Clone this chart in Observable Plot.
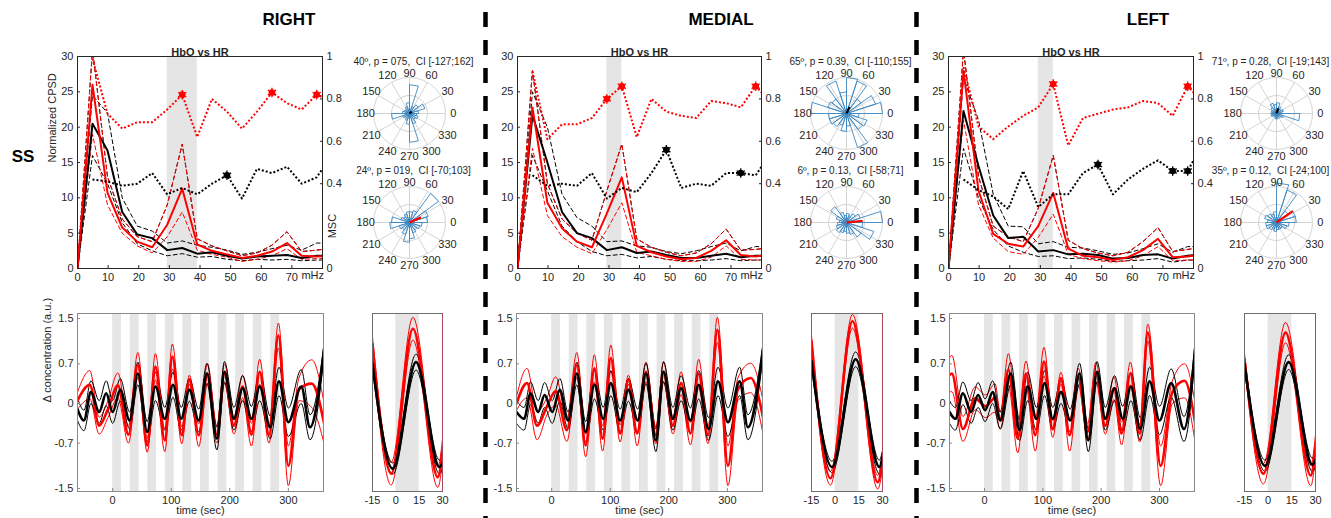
<!DOCTYPE html>
<html><head><meta charset="utf-8">
<script src="https://cdn.jsdelivr.net/npm/d3@7"></script>
<script src="https://cdn.jsdelivr.net/npm/@observablehq/plot@0.6"></script>
<style>
body{margin:0;background:#fff;}
#root{position:relative;width:1331px;height:518px;overflow:hidden;font-family:Arial,"Liberation Sans",Helvetica,sans-serif;color:#262626;background:#fff;}
.hdr{position:absolute;font-weight:bold;font-size:17px;color:#000;transform:translate(-50%,-50%);white-space:nowrap;}
</style></head><body><div id="root"></div>
<script>
// ---------------- DATA ----------------
const regions = ["RIGHT", "MEDIAL", "LEFT"];
const rowLabel = "SS";
const panelTitle = "HbO vs HR";
const freqUnit = "mHz";
const freq = [0, 4.9, 9.8, 14.6, 19.5, 24.4, 29.3, 34.2, 39.1, 43.9, 48.8, 53.7, 58.6, 63.5, 68.4, 73.2, 78.1, 80];
const freqTicks = [0, 10, 20, 30, 40, 50, 60, 70];
const cpsdTicks = [0, 5, 10, 15, 20, 25, 30];
const mscTicks = [0, 0.4, 0.6, 0.8, 1];
const timeTicks = [0, 100, 200, 300];
const concTicks = [-1.5, -0.7, 0, 0.7, 1.5];
const cycleTicks = [-15, 0, 15, 30];
const blockStarts = [0, 30, 60, 90, 120, 150, 180, 210, 240, 270];
const blockLen = 15;
const angleTicks = [0, 30, 60, 90, 120, 150, 180, 210, 240, 270, 300, 330];
const roseBinStarts = [0, 18, 36, 54, 72, 90, 108, 126, 144, 162, 180, 198, 216, 234, 252, 270, 288, 306, 324, 342];
const roseBinWidth = 18;
const gridRings = [0.5, 1];

// RIGHT - CPSD / MSC
const rightHboMean = [0, 26.0, 10.7, 5.8, 3.8, 3.0, 6.2, 11.3, 3.4, 2.5, 2.0, 1.5, 1.8, 2.4, 3.6, 1.8, 1.7, 1.75];
const rightHboUp   = [0, 31, 13, 7, 4.5, 3.8, 9, 17.6, 4.2, 3.2, 2.5, 1.8, 2.2, 3.3, 5.2, 2.4, 2.6, 2.7];
const rightHboLo   = [0, 19, 9, 5, 3.2, 2.2, 4.5, 8, 2.6, 2.0, 1.6, 1.0, 1.3, 1.8, 2.8, 1.3, 1.4, 1.4];
const rightHrMean  = [0, 20.5, 16.7, 8, 4.8, 4.3, 2.6, 2.9, 2.1, 2.3, 1.8, 1.4, 1.7, 1.8, 1.9, 1.5, 1.8, 1.8];
const rightHrUp    = [0, 24.5, 22, 10, 6, 5.3, 3.6, 3.9, 3.3, 3.0, 2.6, 2.0, 2.3, 2.8, 3.3, 2.6, 3.6, 3.6];
const rightHrLo    = [0, 16, 12, 6.5, 3.5, 2.5, 1.8, 2.1, 1.6, 1.7, 1.3, 1.1, 1.3, 1.2, 1.3, 1.1, 1.2, 1.2];
const rightMscHbo  = [null, 0.99, 0.73, 0.66, 0.69, 0.69, 0.75, 0.82, 0.62, 0.80, 0.74, 0.66, 0.74, 0.83, 0.78, 0.75, 0.82, 0.81];
const rightMscHr   = [null, 0.42, 0.41, 0.39, 0.40, 0.45, 0.35, 0.38, 0.35, 0.40, 0.44, 0.33, 0.47, 0.45, 0.48, 0.40, 0.43, 0.47];
const rightSigHbo  = [34.2, 63.5, 78.1];
const rightSigHr   = [48.8];
const rightBand    = [29.3, 39.1];

// MEDIAL - CPSD / MSC
const medialHboMean = [0, 22.8, 9.3, 5.7, 3.8, 3.0, 7.8, 12.9, 3.2, 2.3, 1.7, 1.3, 1.5, 2.5, 4.0, 1.9, 1.7, 1.8];
const medialHboUp   = [0, 28, 12, 7, 5.0, 4.0, 11, 17.6, 4.2, 3.0, 2.3, 1.8, 2.2, 3.5, 5.6, 2.6, 2.7, 2.8];
const medialHboLo   = [0, 17, 7.5, 4.5, 3.0, 2.1, 5.5, 9.3, 2.3, 1.8, 1.3, 1.0, 1.0, 1.6, 3.2, 1.3, 1.2, 1.2];
const medialHrMean  = [0, 21.7, 15, 8.0, 5.0, 4.3, 2.6, 3.0, 2.2, 2.4, 1.9, 1.5, 1.5, 1.8, 2.1, 1.6, 1.8, 1.8];
const medialHrUp    = [0, 25, 20, 10.5, 7.2, 6, 3.8, 3.9, 3.2, 3.0, 2.4, 2.1, 2.5, 3.1, 3.6, 2.5, 3.1, 3.1];
const medialHrLo    = [0, 16, 11, 6, 3.8, 2.4, 1.8, 2.0, 1.5, 1.7, 1.3, 1.1, 1.1, 1.2, 1.4, 1.1, 1.2, 1.2];
const medialMscHbo  = [null, 0.93, 0.61, 0.68, 0.68, 0.71, 0.80, 0.86, 0.62, 0.80, 0.74, 0.72, 0.71, 0.79, 0.78, 0.76, 0.86, 0.83];
const medialMscHr   = [null, 0.44, 0.39, 0.40, 0.39, 0.45, 0.33, 0.38, 0.36, 0.45, 0.56, 0.38, 0.40, 0.39, 0.45, 0.45, 0.44, 0.48];
const medialSigHbo  = [29.3, 34.2, 78.1];
const medialSigHr   = [48.8, 73.2];
const medialBand    = [29.3, 34.2];

// LEFT - CPSD / MSC
const leftHboMean = [0, 28, 11, 4.9, 3.5, 3.1, 6.0, 10.7, 2.8, 1.8, 1.6, 1.2, 1.6, 2.6, 4.2, 1.6, 1.7, 1.8];
const leftHboUp   = [0, 31, 13, 6, 4.5, 3.8, 8.5, 16, 4, 2.8, 2.2, 1.8, 2.3, 3.8, 5.8, 2.4, 2.7, 2.8];
const leftHboLo   = [0, 21, 9, 4.3, 2.4, 2.0, 4.4, 7.7, 2.0, 1.4, 1.1, 0.9, 1.1, 1.8, 3.1, 1.1, 1.2, 1.2];
const leftHrMean  = [0, 22.3, 14.5, 7.5, 4.3, 4.5, 2.4, 2.6, 2.0, 2.1, 1.9, 1.4, 1.5, 1.9, 2.0, 1.4, 1.8, 1.9];
const leftHrUp    = [0, 27, 21, 10.5, 6, 5.9, 3.5, 3.8, 3.0, 2.9, 2.5, 2.0, 2.2, 2.8, 3.5, 2.3, 3.1, 3.1];
const leftHrLo    = [0, 17, 10, 5.5, 3.2, 2.3, 1.7, 1.8, 1.4, 1.5, 1.3, 1.0, 1.1, 1.2, 1.4, 0.9, 1.2, 1.2];
const leftMscHbo  = [null, 0.95, 0.67, 0.61, 0.67, 0.72, 0.76, 0.87, 0.58, 0.71, 0.73, 0.75, 0.76, 0.79, 0.78, 0.72, 0.86, 0.83];
const leftMscHr   = [null, 0.42, 0.37, 0.34, 0.28, 0.46, 0.29, 0.35, 0.35, 0.45, 0.49, 0.35, 0.42, 0.47, 0.51, 0.46, 0.46, 0.51];
const leftSigHbo  = [34.2, 78.1];
const leftSigHr   = [48.8, 73.2, 78.1];
const leftBand    = [29.3, 34.2];

// Polar (rose) histograms: bin radii relative to outer ring; mean angle / length
const rightRoseHr  = [0.25, 0.45, 0.3, 0.2, 0.8, 0.3, 0.2, 0.15, 0.15, 0.2, 0.5, 0.2, 0.15, 0.2, 0.3, 0.8, 0.3, 0.2, 0.25, 0.2];
const rightRoseHbo = [0.5, 0.55, 1.0, 0.35, 0.3, 0.3, 0.25, 0.2, 0.25, 0.5, 0.55, 0.3, 0.25, 0.35, 0.55, 0.45, 0.3, 0.25, 0.3, 0.35];
const medialRoseHr  = [1.0, 0.85, 0.5, 0.95, 1.0, 0.6, 0.95, 0.5, 0.55, 1.0, 0.5, 0.5, 0.45, 0.35, 0.5, 0.35, 1.0, 0.55, 0.6, 0.35];
const medialRoseHbo = [1.0, 0.4, 0.3, 0.2, 0.25, 0.2, 0.3, 0.55, 0.3, 0.2, 0.25, 0.3, 0.35, 0.3, 0.25, 0.3, 0.35, 0.5, 0.8, 0.45];
const leftRoseHr  = [0.15, 0.2, 0.15, 0.2, 0.3, 0.25, 0.3, 0.2, 0.15, 0.15, 0.15, 0.15, 0.1, 0.1, 0.15, 0.15, 0.1, 0.15, 0.2, 0.65];
const leftRoseHbo = [0.55, 0.55, 0.4, 0.95, 1.1, 0.3, 0.25, 0.3, 0.35, 0.25, 0.3, 0.3, 0.25, 0.2, 0.25, 0.2, 0.2, 0.2, 0.3, 0.35];
const rightPolarTitles  = ["40º, p = 075,  CI [-127;162]", "24º, p = 019,  CI [-70;103]"];
const medialPolarTitles = ["65º, p = 0.39,  CI [-110;155]", "6º, p = 0.13,  CI [-58;71]"];
const leftPolarTitles   = ["71º, p = 0.28,  CI [-19;143]", "35º, p = 0.12,  CI [-24;100]"];
const rightMeanVec  = [[40, 0.08], [24, 0.35]];
const medialMeanVec = [[65, 0.2], [6, 0.45]];
const leftMeanVec   = [[71, 0.15], [35, 0.55]];

// Time series: extrema times and values (mean, half-width of thin lines)
const rightRedT  = [-60, -39, -23, -8, 9, 27, 43, 59, 73, 89, 102, 118, 131, 147, 162, 178, 191, 207, 222, 237, 251, 267, 283, 300, 318, 340, 362];
const rightRedM  = [0.05, 0.33, -0.39, -0.1, 0.32, -0.55, 0.68, -0.74, 0.65, -0.65, 0.83, -0.56, 0.42, -0.56, 0.53, -0.55, 0.53, -0.39, 0.3, -0.55, 0.56, -0.55, 1.2, -1.1, 0.25, 0.35, -0.4];
const rightRedH  = [0.15, 0.25, 0.15, 0.15, 0.22, 0.15, 0.22, 0.12, 0.23, 0.2, 0.22, 0.15, 0.08, 0.2, 0.17, 0.15, 0.17, 0.15, 0.2, 0.2, 0.22, 0.15, 0.22, 0.35, 0.2, 0.42, 0.35];
const rightBlkT  = [-60, -49, -37, -23, -11, 0, 13, 29, 43, 59, 73, 89, 103, 117, 131, 147, 161, 178, 191, 207, 222, 237, 251, 269, 284, 300, 322, 337, 362];
const rightBlkM  = [-0.1, -0.3, 0.2, -0.15, 0.18, -0.15, 0.24, -0.3, 0.53, -0.5, 0.3, -0.27, 0.33, -0.27, 0.24, -0.3, 0.53, -0.62, 0.56, -0.27, 0.27, -0.27, 0.3, -0.42, 0.39, -0.33, 0.3, -0.42, 1.04];
const rightBlkH  = [0.2, 0.18, 0.2, 0.2, 0.22, 0.2, 0.2, 0.15, 0.2, 0.18, 0.25, 0.2, 0.22, 0.2, 0.2, 0.2, 0.18, 0.2, 0.18, 0.2, 0.22, 0.22, 0.25, 0.2, 0.25, 0.25, 0.3, 0.22, 0.1];

const medialRedT = [-60, -42, -25, -8, 7, 26, 43, 58, 73, 87, 101, 117, 131, 146, 161, 178, 191, 207, 221, 237, 251, 267, 283, 301, 318, 340, 362];
const medialRedM = [0.0, 0.36, -0.39, -0.05, 0.22, -0.47, 0.68, -0.74, 0.62, -0.62, 0.8, -0.53, 0.42, -0.53, 0.56, -0.56, 0.56, -0.39, 0.36, -0.53, 0.53, -0.56, 1.3, -1.1, 0.25, 0.45, -0.3];
const medialRedH = [0.12, 0.26, 0.25, 0.15, 0.25, 0.2, 0.22, 0.2, 0.24, 0.22, 0.23, 0.15, 0.08, 0.22, 0.17, 0.15, 0.17, 0.15, 0.2, 0.2, 0.25, 0.15, 0.22, 0.35, 0.2, 0.26, 0.3];
const medialBlkT = [-60, -47, -36, -23, -12, 1, 14, 28, 43, 58, 73, 88, 101, 117, 131, 147, 161, 178, 191, 207, 221, 237, 251, 268, 284, 301, 321, 335, 362];
const medialBlkM = [-0.15, -0.27, 0.18, -0.15, 0.15, -0.15, 0.24, -0.3, 0.53, -0.5, 0.33, -0.27, 0.36, -0.3, 0.24, -0.3, 0.53, -0.65, 0.56, -0.27, 0.27, -0.3, 0.33, -0.45, 0.39, -0.33, 0.39, -0.42, 1.04];
const medialBlkH = [0.2, 0.2, 0.2, 0.2, 0.22, 0.2, 0.2, 0.15, 0.2, 0.18, 0.25, 0.2, 0.22, 0.2, 0.2, 0.2, 0.18, 0.2, 0.18, 0.2, 0.22, 0.22, 0.25, 0.2, 0.25, 0.25, 0.25, 0.22, 0.1];

const leftRedT = [-60, -56, -37, -16, 2, 18, 27, 41, 57, 71, 87, 102, 117, 131, 146, 161, 177, 191, 207, 222, 235, 250, 266, 280, 302, 322, 343, 362];
const leftRedM = [0.5, 0.53, -0.45, 0.09, -0.05, 0.1, -0.3, 0.6, -0.62, 0.53, -0.56, 0.74, -0.45, 0.45, -0.56, 0.47, -0.5, 0.56, -0.39, 0.27, -0.53, 0.53, -0.53, 1.25, -1.1, 0.2, 0.4, -0.4];
const leftRedH = [0.3, 0.32, 0.22, 0.2, 0.2, 0.25, 0.15, 0.28, 0.25, 0.22, 0.28, 0.25, 0.15, 0.1, 0.28, 0.15, 0.15, 0.17, 0.15, 0.2, 0.2, 0.2, 0.15, 0.15, 0.35, 0.2, 0.3, 0.35];
const leftBlkT = [-60, -50, -37, -23, -11, 1, 14, 27, 45, 60, 74, 89, 103, 117, 131, 147, 163, 178, 193, 207, 223, 237, 251, 267, 283, 300, 320, 342, 362];
const leftBlkM = [-0.15, -0.27, 0.18, -0.15, 0.15, -0.12, 0.2, -0.3, 0.53, -0.47, 0.3, -0.27, 0.36, -0.27, 0.2, -0.3, 0.53, -0.65, 0.56, -0.27, 0.27, -0.27, 0.3, -0.45, 0.39, -0.3, 0.36, -0.45, 1.07];
const leftBlkH = [0.2, 0.2, 0.2, 0.2, 0.22, 0.2, 0.2, 0.15, 0.2, 0.18, 0.25, 0.2, 0.22, 0.2, 0.2, 0.2, 0.18, 0.2, 0.18, 0.2, 0.22, 0.22, 0.25, 0.2, 0.25, 0.25, 0.25, 0.22, 0.1];

// Averaged cycle (-15..30 s)
const cycleT = [-15, -3, 11, 27, 30];
const cycleTB = [-15, -2, 13, 28, 30];
const rightCycRedM = [1.05, -1.24, 1.32, -1.3, -0.83];
const rightCycRedH = [0.12, 0.2, 0.2, 0.18, 0.2];
const rightCycBlkM = [0.7, -1.15, 0.73, -1.12, -1.05];
const rightCycBlkH = [0.1, 0.1, 0.14, 0.12, 0.12];
const medialCycRedM = [1.1, -1.32, 1.45, -1.39, -1.0];
const medialCycRedH = [0.1, 0.12, 0.12, 0.12, 0.15];
const medialCycBlkM = [0.75, -1.12, 0.78, -1.12, -0.95];
const medialCycBlkH = [0.1, 0.1, 0.13, 0.12, 0.12];
const leftCycRedM = [0.78, -1.24, 1.25, -1.27, -0.75];
const leftCycRedH = [0.1, 0.18, 0.18, 0.18, 0.2];
const leftCycBlkM = [0.7, -1.1, 0.73, -1.08, -1.0];
const leftCycBlkH = [0.1, 0.1, 0.13, 0.12, 0.12];

// ---------------- LAYOUT ----------------
const layout = [
  {cpsdL: 77, cpsdR: 322, tsL: 77, tsR: 323, cyL: 372, cyR: 442, polarX: 409, titleDx: 4, hdrX: 289},
  {cpsdL: 517, cpsdR: 761, tsL: 516, tsR: 762, cyL: 811, cyR: 882, polarX: 846, titleDx: 4, hdrX: 721},
  {cpsdL: 948, cpsdR: 1193, tsL: 949, tsR: 1194, cyL: 1244, cyR: 1315, polarX: 1276, titleDx: -6, hdrX: 1148}
];
const cfgs = [
  {hm: rightHboMean, hu: rightHboUp, hl: rightHboLo, bm: rightHrMean, bu: rightHrUp, bl: rightHrLo, mr: rightMscHbo, mb: rightMscHr, sr: rightSigHbo, sb: rightSigHr, band: rightBand,
   roses: [rightRoseHr, rightRoseHbo], ptitles: rightPolarTitles, mvec: rightMeanVec,
   rT: rightRedT, rM: rightRedM, rH: rightRedH, bT: rightBlkT, bM: rightBlkM, bH: rightBlkH,
   cRM: rightCycRedM, cRH: rightCycRedH, cBM: rightCycBlkM, cBH: rightCycBlkH},
  {hm: medialHboMean, hu: medialHboUp, hl: medialHboLo, bm: medialHrMean, bu: medialHrUp, bl: medialHrLo, mr: medialMscHbo, mb: medialMscHr, sr: medialSigHbo, sb: medialSigHr, band: medialBand,
   roses: [medialRoseHr, medialRoseHbo], ptitles: medialPolarTitles, mvec: medialMeanVec,
   rT: medialRedT, rM: medialRedM, rH: medialRedH, bT: medialBlkT, bM: medialBlkM, bH: medialBlkH,
   cRM: medialCycRedM, cRH: medialCycRedH, cBM: medialCycBlkM, cBH: medialCycBlkH},
  {hm: leftHboMean, hu: leftHboUp, hl: leftHboLo, bm: leftHrMean, bu: leftHrUp, bl: leftHrLo, mr: leftMscHbo, mb: leftMscHr, sr: leftSigHbo, sb: leftSigHr, band: leftBand,
   roses: [leftRoseHr, leftRoseHbo], ptitles: leftPolarTitles, mvec: leftMeanVec,
   rT: leftRedT, rM: leftRedM, rH: leftRedH, bT: leftBlkT, bM: leftBlkM, bH: leftBlkH,
   cRM: leftCycRedM, cRH: leftCycRedH, cBM: leftCycBlkM, cBH: leftCycBlkH}
];

const root = document.getElementById("root");
const RED = "#ff0000", BLK = "#000000", AX = "#262626", BAND = "#e5e5e5";
const baseStyle = {fontFamily: "Arial, 'Liberation Sans', sans-serif", fontSize: "11px", color: AX, background: "none", overflow: "visible"};
function place(el, left, top) {
  el.style.position = "absolute"; el.style.left = left + "px"; el.style.top = top + "px";
  root.appendChild(el);
}
function hdr(text, x, y) {
  const d = document.createElement("div"); d.className = "hdr"; d.textContent = text;
  d.style.left = x + "px"; d.style.top = y + "px"; root.appendChild(d);
}
const MSC_SCALE = 30; // MSC 0..1 shares the 0..30 CPSD frame
const fmt = v => String(+v.toFixed(2));

// ---------------- CPSD PANELS ----------------
function cpsdPanel(i) {
  const c = cfgs[i], L = layout[i];
  const rows = freq.map((f, k) => ({f, hm: c.hm[k], hu: c.hu[k], hl: c.hl[k], bm: c.bm[k], bu: c.bu[k], bl: c.bl[k], mr: c.mr[k], mb: c.mb[k]}));
  const mrows = rows.filter(d => d.mr != null);
  const idx = f => freq.indexOf(f);
  const sigR = c.sr.map(f => ({f, v: c.mr[idx(f)]}));
  const sigB = c.sb.map(f => ({f, v: c.mb[idx(f)]}));
  const dash = {strokeWidth: 1, strokeDasharray: "4,3", clip: true};
  const dot = {strokeWidth: 2, strokeDasharray: "2,2", strokeLinecap: "butt", clip: true};
  const marks = [
    Plot.rect([c.band], {x1: d => d[0], x2: d => d[1], y1: cpsdTicks[0], y2: cpsdTicks[cpsdTicks.length - 1], fill: BAND}),
    Plot.line(rows, {x: "f", y: "hu", stroke: BLK, ...dash}),
    Plot.line(rows, {x: "f", y: "bl", stroke: BLK, ...dash}),
    Plot.line(rows, {x: "f", y: "bu", stroke: BLK, ...dash}),
    Plot.line(rows, {x: "f", y: "hl", stroke: RED, ...dash}),
    Plot.line(rows, {x: "f", y: "hu", stroke: RED, ...dash}),
    Plot.line(rows, {x: "f", y: "bm", stroke: BLK, strokeWidth: 2, clip: true}),
    Plot.line(rows, {x: "f", y: "hm", stroke: RED, strokeWidth: 2, clip: true}),
    Plot.line(mrows, {x: "f", y: d => d.mr * MSC_SCALE, stroke: RED, ...dot}),
    Plot.line(mrows, {x: "f", y: d => d.mb * MSC_SCALE, stroke: BLK, ...dot}),
    Plot.dot(sigR, {x: "f", y: d => d.v * MSC_SCALE, fill: RED, r: 3.3}),
    Plot.dot(sigR, {x: "f", y: d => d.v * MSC_SCALE, stroke: RED, symbol: "asterisk", r: 4.5, strokeWidth: 1.3}),
    Plot.dot(sigB, {x: "f", y: d => d.v * MSC_SCALE, fill: BLK, r: 3.3}),
    Plot.dot(sigB, {x: "f", y: d => d.v * MSC_SCALE, stroke: BLK, symbol: "asterisk", r: 4.5, strokeWidth: 1.3}),
    Plot.frame({stroke: AX, strokeWidth: 1}),
    Plot.axisX({ticks: freqTicks, tickSize: -3, tickPadding: 8, label: null, stroke: AX, tickFormat: d => String(d)}),
    Plot.axisY({ticks: cpsdTicks, tickSize: -3, tickPadding: 7, label: null, stroke: AX, tickFormat: d => String(d)}),
    Plot.axisY({anchor: "right", ticks: mscTicks.map(v => v * MSC_SCALE), tickSize: -3, tickPadding: 7, label: null, stroke: AX, tickFormat: d => fmt(d / MSC_SCALE)}),
    Plot.text([panelTitle], {frameAnchor: "top", dy: -8, fontWeight: "bold", fontSize: 11}),
    Plot.text([freqUnit], {x: 76.8, frameAnchor: "bottom", dy: 10, fontSize: 11})
  ];
  if (i === 0) {
    marks.push(Plot.text(["Normalized CPSD"], {frameAnchor: "left", rotate: -90, dx: -25, fontSize: 11}));
    marks.push(Plot.text(["MSC"], {x: 80, y: 0.2 * MSC_SCALE, rotate: -90, dx: 10, fontSize: 11}));
  }
  const svg = Plot.plot({
    width: (L.cpsdR - L.cpsdL) + 80, height: 260,
    marginLeft: 45, marginRight: 35, marginTop: 20, marginBottom: 28,
    x: {domain: [0, 80]}, y: {domain: [0, 30]},
    style: baseStyle, marks
  });
  place(svg, L.cpsdL - 45, 36);
}

// ---------------- POLAR PANELS ----------------
const PX = 36; // px per unit radius
function polarPanel(i, j) {
  const c = cfgs[i], L = layout[i];
  const vals = c.roses[j];
  const rows = [];
  vals.forEach((v, k) => {
    const a0 = roseBinStarts[k], a1 = a0 + roseBinWidth;
    rows.push({b: k, a: a0, r: 0}, {b: k, a: a0, r: v}, {b: k, a: a1, r: v}, {b: k, a: a1, r: 0});
  });
  const rad = a => a * Math.PI / 180;
  const labR = a => a === 90 ? 1.12 : (a === 270 ? 1.2 : 1.22);
  const [ang, len] = c.mvec[j];
  const cy = j === 0 ? 113 : 222;
  const svg = Plot.plot({
    width: 150, height: 112, margin: 0,
    x: {domain: [-75 / PX, 75 / PX], axis: null},
    y: {domain: [-52 / PX, 60 / PX], axis: null},
    style: baseStyle,
    marks: [
      ...gridRings.map(g => Plot.dot([g], {x: 0, y: 0, r: g * PX, stroke: "#d4d4d4", fill: "none", strokeWidth: 1})),
      Plot.link(angleTicks, {x1: 0, y1: 0, x2: a => Math.cos(rad(a)), y2: a => Math.sin(rad(a)), stroke: "#d4d4d4", strokeWidth: 1}),
      Plot.line(rows, {x: d => d.r * Math.cos(rad(d.a)), y: d => d.r * Math.sin(rad(d.a)), z: "b", stroke: "#3c88c2", strokeWidth: 0.9}),
      Plot.link([0], {x1: 0, y1: 0, x2: len * Math.cos(rad(ang)), y2: len * Math.sin(rad(ang)), stroke: j === 0 ? BLK : RED, strokeWidth: 2.2}),
      Plot.text(angleTicks, {x: a => labR(a) * Math.cos(rad(a)), y: a => labR(a) * Math.sin(rad(a)), text: a => String(a), fontSize: 11, fill: AX}),
      Plot.text([c.ptitles[j]], {x: 0, y: 1.45, dx: L.titleDx, fontSize: 10, fill: AX})
    ]
  });
  place(svg, L.polarX - 75, cy - 60);
}

// ---------------- TIME SERIES ----------------
const YD = [-1.553, 1.588];
function seriesMarks(rT, rM, rH, bT, bM, bH) {
  const rr = rT.map((t, k) => ({t, m: rM[k], h: rH[k]}));
  const br = bT.map((t, k) => ({t, m: bM[k], h: bH[k]}));
  const o = {x: "t", curve: "monotone-x", clip: true};
  return [
    Plot.line(rr, {...o, y: d => d.m + d.h, stroke: RED, strokeWidth: 1}),
    Plot.line(rr, {...o, y: d => d.m - d.h, stroke: RED, strokeWidth: 1}),
    Plot.line(br, {...o, y: d => d.m + d.h, stroke: BLK, strokeWidth: 1}),
    Plot.line(br, {...o, y: d => d.m - d.h, stroke: BLK, strokeWidth: 1}),
    Plot.line(rr, {...o, y: "m", stroke: RED, strokeWidth: 2.6}),
    Plot.line(br, {...o, y: "m", stroke: BLK, strokeWidth: 2.6})
  ];
}
function tsPanel(i) {
  const c = cfgs[i], L = layout[i];
  const marks = [
    Plot.rect(blockStarts, {x1: d => d, x2: d => d + blockLen, y1: YD[0], y2: YD[1], fill: BAND}),
    ...seriesMarks(c.rT, c.rM, c.rH, c.bT, c.bM, c.bH),
    Plot.frame({stroke: "#8a8a8a"}),
    Plot.axisX({ticks: timeTicks, tickSize: -3, tickPadding: 8, label: null, stroke: "#8a8a8a", fill: AX, tickFormat: d => String(d)}),
    Plot.axisY({ticks: concTicks, tickSize: -3, tickPadding: 7, label: null, stroke: "#8a8a8a", fill: AX, tickFormat: d => String(d)}),
    Plot.text(["time (sec)"], {frameAnchor: "bottom", dy: 22, fontSize: 11})
  ];
  if (i === 0) marks.push(Plot.text(["Δ concentration (a.u.)"], {frameAnchor: "left", rotate: -90, dx: -30, fontSize: 11}));
  const svg = Plot.plot({
    width: (L.tsR - L.tsL) + 50, height: 218,
    marginLeft: 40, marginRight: 10, marginTop: 13, marginBottom: 27,
    x: {domain: [-60, 360]}, y: {domain: YD},
    style: baseStyle, marks
  });
  place(svg, L.tsL - 40, 300);

  const cmarks = [
    Plot.rect([0], {x1: 0, x2: blockLen, y1: YD[0], y2: YD[1], fill: BAND}),
    ...seriesMarks(cycleT, c.cRM, c.cRH, cycleTB, c.cBM, c.cBH),
    Plot.frame({stroke: "#6e6e6e"}),
    Plot.ruleX([cycleTicks[cycleTicks.length - 1]], {stroke: "#a8485a", strokeWidth: 1}),
    Plot.axisX({ticks: cycleTicks, tickSize: 0, tickPadding: 5, label: null, fill: AX, tickFormat: d => String(d)})
  ];
  const svg2 = Plot.plot({
    width: (L.cyR - L.cyL) + 20, height: 218,
    marginLeft: 10, marginRight: 10, marginTop: 13, marginBottom: 27,
    x: {domain: [-15, 30]}, y: {domain: YD, axis: null},
    style: baseStyle, marks: cmarks
  });
  place(svg2, L.cyL - 10, 300);
}

// ---------------- SEPARATORS ----------------
function separator(x) {
  const svg = Plot.plot({
    width: 8, height: 506, margin: 0,
    x: {domain: [0, 1], axis: null}, y: {domain: [0, 1], axis: null},
    style: {background: "none"},
    marks: [Plot.ruleX([0.5], {stroke: "#000", strokeWidth: 4.5, strokeDasharray: "15,13"})]
  });
  place(svg, x - 4, 12);
}

for (let i = 0; i < 3; i++) {
  cpsdPanel(i);
  polarPanel(i, 0);
  polarPanel(i, 1);
  tsPanel(i);
  hdr(regions[i], layout[i].hdrX, 20);
}
hdr(rowLabel, 23, 157);
separator(485);
separator(916);
</script></body></html>
